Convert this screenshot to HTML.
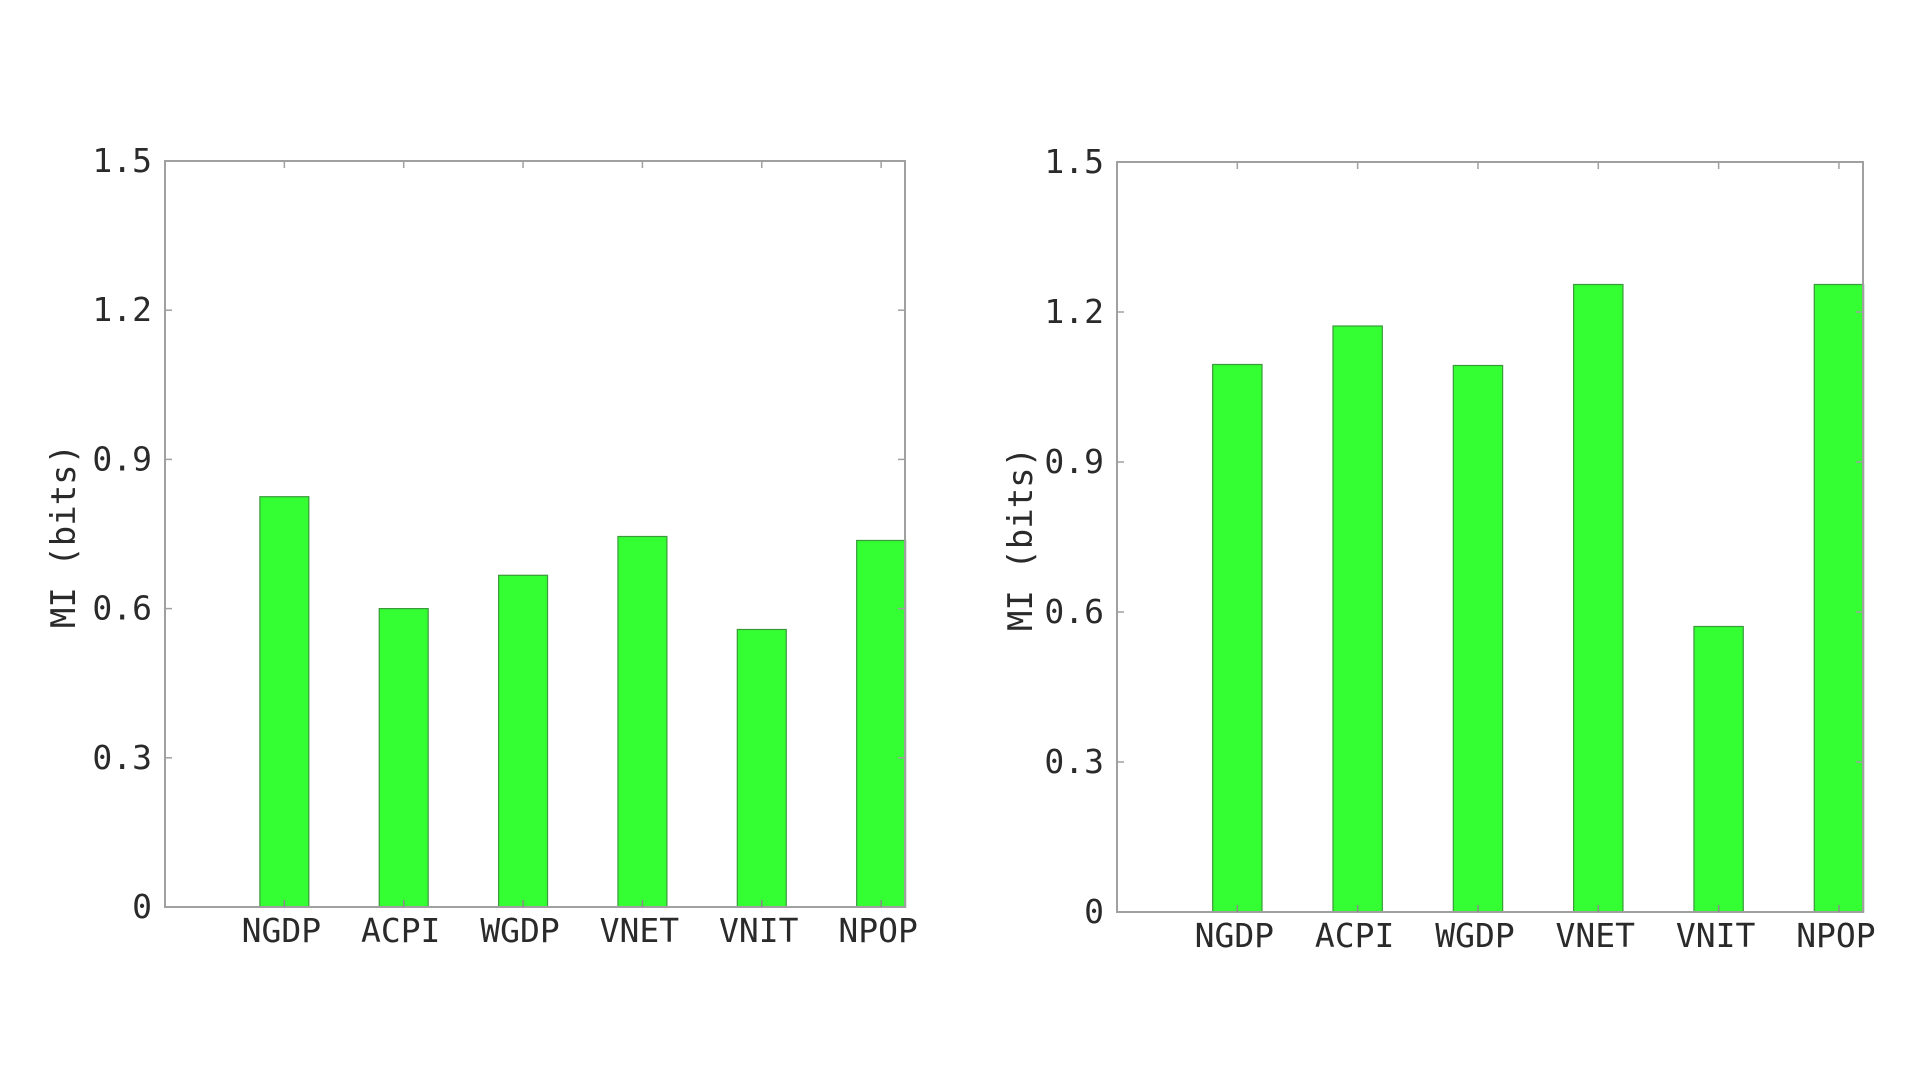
<!DOCTYPE html>
<html><head><meta charset="utf-8">
<style>
html,body{margin:0;padding:0;background:#fff;width:1920px;height:1080px;overflow:hidden}
svg{display:block}
text{font-family:"DejaVu Sans Mono","Liberation Mono",monospace;fill:#2a2a2a}
</style></head>
<body>
<svg id="chart" width="1920" height="1080" viewBox="0 0 1920 1080" xmlns="http://www.w3.org/2000/svg"></svg>
<script>
const categories = ["NGDP","ACPI","WGDP","VNET","VNIT","NPOP"];
const leftValues = [0.825, 0.600, 0.667, 0.745, 0.558, 0.737];
const rightValues = [1.095, 1.172, 1.093, 1.255, 0.571, 1.255];
const yTicks = [0, 0.3, 0.6, 0.9, 1.2, 1.5];
const yTickLabels = ["0","0.3","0.6","0.9","1.2","1.5"];

const NS = "http://www.w3.org/2000/svg";
const svg = document.getElementById("chart");
function mk(tag, attrs, parent){
  const e = document.createElementNS(NS, tag);
  for (const k in attrs) e.setAttribute(k, attrs[k]);
  (parent||svg).appendChild(e);
  return e;
}

function drawPanel(name, box, values, labelX){
  const g = mk("g", {});
  
  
  const yMax = 1.5, xMax = 6.2;
  const y = v => box.bottom - (v / yMax) * (box.bottom - box.top);
  const x = u => box.left + (u / xMax) * (box.right - box.left);
  const bw = 0.41;
  // bars
  values.forEach((v, i) => {
    const c = i + 1;
    const r = mk("rect", {x: x(c - bw/2), y: y(v), width: x(c + bw/2) - x(c - bw/2), height: y(0) - y(v), fill: "#33ff33", stroke: "#3a9a3a", "stroke-width": 1.2}, g);
    
    
  });
  // axes frame
  const fr = mk("rect", {x: box.left, y: box.top, width: box.right - box.left, height: box.bottom - box.top, fill: "none", stroke: "#a0a0a0", "stroke-width": 2}, g);
  
  
  // y ticks
  yTicks.forEach((t, i) => {
    const yy = y(t);
    mk("line", {x1: box.left, x2: box.left + 7, y1: yy, y2: yy, stroke: "#a0a0a0", "stroke-width": 1.5}, g);
    mk("line", {x1: box.right, x2: box.right - 7, y1: yy, y2: yy, stroke: "#a0a0a0", "stroke-width": 1.5}, g);
    const tl = mk("text", {x: box.left - 13, y: yy + 11, "text-anchor": "end", "font-size": 33}, g);
    tl.textContent = yTickLabels[i];
    
    
  });
  // x ticks and labels
  categories.forEach((c, i) => {
    const xx = x(i + 1);
    mk("line", {x1: xx, x2: xx, y1: box.bottom, y2: box.bottom - 7, stroke: "#8a8a8a", "stroke-width": 1.5}, g);
    mk("line", {x1: xx, x2: xx, y1: box.top, y2: box.top + 7, stroke: "#a0a0a0", "stroke-width": 1.5}, g);
    const xl = mk("text", {x: xx - 3, y: box.bottom + 35, "text-anchor": "middle", "font-size": 33}, g);
    xl.textContent = c;
    
    
  });
  // y axis title
  const cy = (box.top + box.bottom) / 2 + 2;
  const yt = mk("text", {x: labelX, y: cy, "text-anchor": "middle", "font-size": 34, transform: "rotate(-90 " + labelX + " " + cy + ")"}, g);
  yt.textContent = "MI (bits)";
  
  
}

drawPanel("left-chart", {left: 165, right: 905, top: 161, bottom: 907}, leftValues, 75);
drawPanel("right-chart", {left: 1117, right: 1863, top: 162, bottom: 912}, rightValues, 1032);
</script>
</body></html>
